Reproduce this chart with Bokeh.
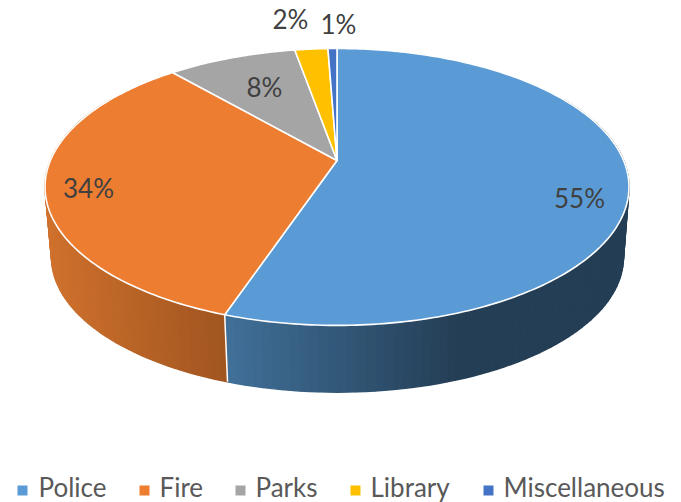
import numpy as np
from bokeh.plotting import figure
from bokeh.core.properties import value
from bokeh.embed import file_html
from bokeh.resources import INLINE

categories = ["Police", "Fire", "Parks", "Library", "Miscellaneous"]
shares = [55.2, 33.4, 8.6, 2.2, 0.6]
pct_labels = ["55%", "34%", "8%", "2%", "1%"]
colors = ["#5B9BD5", "#ED7D31", "#A5A5A5", "#FFC000", "#4472C4"]

# perspective disc model, in reference-pixel coordinates
K = 0.191
TOP = dict(cx=336.5, cy=160.0, a=286.6, b=133.4)
BOT = dict(cx=337.0, cy=231.0, a=280.7, b=130.0)

def proj(theta, d):
    u, v = np.sin(theta), np.cos(theta)
    den = 1 + K * v
    return d["cx"] + d["a"] * u / den, d["cy"] - d["b"] * v / den

p = figure(width=681, height=502, x_range=(0, 681), y_range=(502, 0),
           toolbar_location=None, output_backend="svg", min_border=0,
           outline_line_color=None)
p.axis.visible = False
p.grid.visible = False
p.background_fill_color = "white"
p.border_fill_color = "white"

edges = np.deg2rad(np.cumsum([0] + shares) * 3.6)

def lerp(c0, c1, t):
    t = min(max(t, 0), 1)
    return "#%02x%02x%02x" % tuple(int(round(a + (b - a) * t)) for a, b in zip(c0, c1))

# side wall: Police (right) and Fire (left), shaded by screen position
def wall(t0, t1, shade):
    ts = np.linspace(t0, t1, 90)
    xs, ys, cs = [], [], []
    for a, b in zip(ts[:-1], ts[1:]):
        xa, ya = proj(a, TOP); xb, yb = proj(b, TOP)
        xc, yc = proj(b, BOT); xd, yd = proj(a, BOT)
        xs.append([xa, xb, xc, xd]); ys.append([ya, yb, yc, yd])
        cs.append(shade((xa + xb) / 2))
    p.patches(xs, ys, fill_color=cs, line_color=cs, line_width=1.4)

wall(np.deg2rad(60), edges[1],
     lambda x: lerp((64, 111, 152), (36, 62, 85), (x - 227) / 230))
wall(edges[1], np.deg2rad(300),
     lambda x: lerp((207, 113, 45), (160, 85, 32), (x - 46) / 179))

# white seam between the two wall colours
sx0, sy0 = proj(edges[1], TOP)
sx1, sy1 = proj(edges[1], BOT)
p.line([sx0, sx1], [sy0, sy1], line_color="white", line_width=1.5)

# top face
for i, c in enumerate(colors):
    ts = np.linspace(edges[i], edges[i + 1], max(4, int(shares[i] * 4)))
    x, y = proj(ts, TOP)
    p.patch(list(x) + [TOP["cx"]], list(y) + [TOP["cy"]], fill_color=c,
            line_color="white", line_width=1.6, line_join="round")

# percentage labels
label_x = [579, 88, 264, 290, 338]
label_y = [197, 187, 86, 18, 23]
p.text(label_x, label_y, text=pct_labels, text_font=value("Lato"),
       text_font_size="26px", text_color="#404040",
       text_align="center", text_baseline="middle")

# legend
legend_text_x = [38, 159, 255, 370, 503]
legend_mark_x = [22, 144, 240, 355, 488]
p.scatter(legend_mark_x, [490] * 5, marker="square", size=10,
          fill_color=colors, line_color=None)
p.text(legend_text_x, [486] * 5, text=categories, text_font=value("Lato"),
       text_font_size="26px", text_color="#595959",
       text_align="left", text_baseline="middle")

open("out.html", "w").write(file_html(p, INLINE))
